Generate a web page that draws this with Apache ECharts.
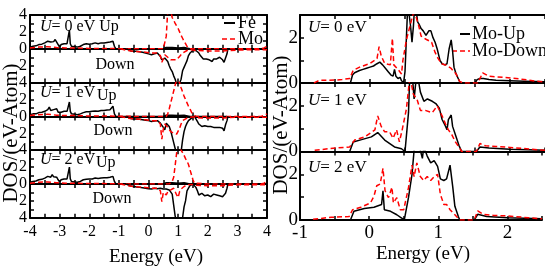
<!DOCTYPE html>
<html><head><meta charset="utf-8">
<script src="https://cdn.jsdelivr.net/npm/echarts@6/dist/echarts.min.js"></script>
<style>html,body{margin:0;padding:0;background:#fff}#c{width:545px;height:271px}</style>
</head><body><div id="c"></div>
<script>
// ---------- Left panel (Fe & Mo, Up / Down) ----------
const leftFeUpE = [-4,-3.9,-3.8,-3.7,-3.6,-3.5,-3.4,-3.35,-3.3,-3.25,-3.2,-3.15,-3.1,-3.05,-3.0,-2.95,-2.9,-2.85,-2.8,-2.75,-2.7,-2.67,-2.64,-2.6,-2.5,-2.4,-2.3,-2.2,-2.1,-2.0,-1.9,-1.8,-1.7,-1.6,-1.5,-1.4,-1.3,-1.25,-1.2,-1.15,-1.1,-0.5,0,0.5,0.6,0.8,1.0,1.2,1.4,1.6,2.0,2.4,2.65];
const feUpU0 = [0.2,0.3,0.35,0.5,0.55,0.7,0.9,1.1,0.8,1.0,0.85,1.1,0.9,0.5,0.2,0.5,0.4,0.6,0.5,0.6,0.7,2.2,0.6,0.3,0.25,0.2,0.3,0.5,0.6,0.55,0.6,0.7,0.6,0.7,0.7,0.75,0.8,0.7,0.9,0.3,0,0,0,0,0.15,0.15,0.1,0.15,0,0,0,0,0];
const feUpU1 = [0.2,0.3,0.3,0.45,0.5,0.6,0.8,1.1,0.7,0.9,0.8,1.0,0.9,0.5,0.3,0.5,0.5,0.6,0.55,0.6,0.7,1.7,0.6,0.3,0.25,0.2,0.3,0.45,0.55,0.55,0.6,0.65,0.6,0.7,0.7,0.75,0.8,0.7,1.2,0.3,0,0,0,0,0.15,0.15,0.1,0.15,0,0,0,0,0];
const feUpU2 = [0.2,0.3,0.35,0.5,0.55,0.7,0.9,1.0,0.8,1.1,0.85,1.0,0.8,0.5,0.25,0.5,0.45,0.6,0.5,0.6,0.7,2.0,0.6,0.3,0.25,0.2,0.3,0.5,0.55,0.6,0.6,0.7,0.65,0.7,0.75,0.75,0.8,0.75,0.9,0.3,0,0,0,0,0.15,0.15,0.1,0.15,0,0,0,0,0];

const leftMoUpE = [-4,-3.7,-3.4,-3.1,-2.8,-2.5,-2.0,-1.5,-1.0,-0.5,0,0.3,0.5,0.55,0.6,0.65,0.7,0.75,0.8,0.85,0.9,0.95,1.0,1.05,1.1,1.15,1.2,1.25,1.3,1.35,1.4,1.45,1.5,1.55,1.6,2.0,2.5,3.0,3.5,3.8,3.9,4.0];
const moUpU0 = [0.1,0.2,0.25,0.15,0.1,0.1,0.05,0.05,0.02,0,0,0,0,0.1,1.5,4.6,5.0,4.5,3.7,3.4,3.0,2.7,2.4,2.0,1.6,1.25,0.9,0.6,0.3,0.1,0,0,0,0,0,0,0,0,0,0,0.1,0.3];
const moUpU1 = [0.1,0.2,0.25,0.15,0.1,0.1,0.05,0.05,0.02,0,0,0,0,0,0,0.3,0.9,1.6,2.3,3.0,3.7,4.4,4.6,4.0,3.4,2.9,2.4,2.0,1.6,1.2,0.9,0.5,0.25,0.05,0,0,0,0,0,0,0.1,0.3];
const moUpU2 = [0.1,0.2,0.25,0.15,0.1,0.1,0.05,0.05,0.02,0,0,0,0,0,0,0,0,0.1,0.3,0.8,2.2,3.7,4.6,4.4,4.0,3.7,3.4,3.0,2.7,2.3,1.7,1.1,0.5,0.1,0,0,0,0,0,0,0.1,0.3];

const leftFeDnE = [-0.75,-0.7,-0.6,-0.5,-0.4,-0.3,-0.2,-0.1,0,0.1,0.2,0.3,0.35,0.4,0.45,0.5,0.55,0.6,0.65,0.7,0.75,0.8,0.85,0.9,0.95,1.0,1.05,1.1,1.15,1.2,1.25,1.3,1.35,1.4,1.45,1.5,1.55,1.6,1.65,1.7,1.75,1.8,1.85,1.9,1.95,2.0,2.05,2.1,2.15,2.2,2.25,2.3,2.35,2.4,2.45,2.5,2.55,2.6,2.65,2.68];
const feDnU0 = [0,0.2,0.25,0.3,0.3,0.35,0.4,0.5,0.6,0.7,0.6,0.5,0.6,0.9,1.3,1.5,1.1,1.2,1.5,2.0,2.4,2.7,3.2,3.6,4.2,4.5,4.3,3.6,2.6,2.2,1.8,1.4,0.8,0.5,0.4,0.2,0.05,0.2,0.3,0.5,0.8,1.0,1.2,1.1,1.2,1.1,1.3,1.4,1.5,1.2,1.3,1.2,1.3,1.0,1.2,1.3,1.6,1.1,0.6,0];
const feDnU1 = [0,0.2,0.25,0.3,0.3,0.35,0.4,0.45,0.5,0.6,0.55,0.5,0.6,0.8,1.0,1.3,1.6,0.8,0.6,1.2,1.7,2.4,3.1,3.8,4.5,4.6,4.5,4.2,2.8,1.8,1.2,0.8,0.5,0.3,0.2,0.05,0,0.3,0.6,0.9,1.1,1.2,1.0,1.1,1.3,1.2,1.3,1.2,1.4,1.3,1.2,1.3,1.4,1.3,1.2,1.4,1.7,1.0,0.5,0];
const feDnU2 = [0,0.2,0.25,0.3,0.35,0.4,0.45,0.5,0.55,0.6,0.5,0.55,0.5,0.5,0.6,0.6,0.5,0.6,0.5,0.7,0.8,1.2,2.5,3.8,4.5,4.6,4.5,4.5,4.0,2.7,2.0,0.8,0.5,0.2,0.05,0,0.1,0.4,0.8,1.3,1.2,1.1,1.3,1.4,1.2,1.3,1.2,1.5,1.3,1.2,1.4,1.3,1.2,1.4,1.3,1.5,1.7,1.1,0.5,0];

const leftMoDnE = [-0.95,-0.9,-0.7,-0.5,-0.3,-0.1,0.1,0.3,0.35,0.4,0.45,0.5,0.55,0.6,0.65,0.7,0.75,0.8,0.85,0.9,0.95,1.0,1.05,1.1,1.15,1.2,1.3,1.4,1.5,1.6,2.0,2.5,2.7,3.0,3.5,4.0];
const moDnU0 = [0,0.1,0.2,0.3,0.35,0.4,0.5,0.5,0.6,0.8,1.6,1.2,0.7,0.8,1.0,1.1,1.3,1.4,1.3,1.5,1.3,1.1,0.9,0.7,0.5,0.4,0.2,0.1,0.15,0.2,0.25,0.25,0.2,0.15,0.1,0.1];
const moDnU1 = [0,0.1,0.2,0.3,0.35,0.4,0.5,0.5,0.6,0.9,2.7,1.5,0.9,1.0,1.3,1.5,1.8,1.9,2.0,2.1,2.1,2.0,1.4,0.9,0.5,0.4,0.2,0.1,0.05,0.15,0.2,0.2,0.15,0.1,0.1,0.1];
const moDnU2 = [0,0.1,0.2,0.3,0.35,0.4,0.5,0.5,0.6,0.8,2.1,1.0,0.9,1.3,0.9,0.8,0.7,0.6,0.5,0.6,1.3,1.6,0.9,0.6,0.4,0.3,0.1,0.05,0.05,0.15,0.2,0.2,0.15,0.1,0.1,0.1];

// ---------- Right panel (Mo-Up / Mo-Down) ----------
const rU0UpE = [-0.28,-0.25,-0.22,-0.15,-0.1,-0.05,0,0.05,0.1,0.14,0.18,0.22,0.26,0.3,0.33,0.35,0.37,0.4,0.43,0.45,0.48,0.5,0.52,0.54,0.56,0.58,0.6,0.62,0.64,0.66,0.68,0.7,0.73,0.76,0.8,0.84,0.87,0.9,0.93,0.96,1.0,1.03,1.07,1.1,1.13,1.16,1.18,1.2,1.23,1.26,1.29,1.5,1.53,1.57,1.62,1.7,1.8,2.0,2.2,2.5];
const rU0UpV = [0,0.35,0.45,0.55,0.6,0.65,0.7,0.75,0.85,0.92,0.8,0.65,0.5,0.35,0.3,0.6,0.3,0.2,0.25,0.1,0.02,0.5,2.0,3.5,3.5,2.5,1.8,2.5,3.5,3.2,2.7,2.6,2.4,2.3,2.1,2.3,2.3,2.0,1.8,1.5,1.0,0.85,0.8,0.85,1.5,1.9,1.4,0.7,0.4,0.2,0,0,0.15,0.2,0.2,0.15,0.12,0.1,0.08,0.05];
const rU0DnE = [-0.8,-0.77,-0.72,-0.5,-0.4,-0.29,-0.24,-0.14,0,0.1,0.13,0.16,0.21,0.29,0.32,0.34,0.4,0.45,0.47,0.52,0.57,0.62,0.66,0.69,0.73,0.8,0.88,0.93,0.97,1.02,1.09,1.16,1.23,1.28,1.33,1.54,1.61,1.7,1.9,2.14,2.38,2.5];
const rU0DnV = [0,0.05,0.12,0.13,0.15,0.2,0.56,0.71,0.86,1.08,1.6,1.2,0.86,0.8,1.97,0.8,0.6,0.4,1.0,1.9,2.5,3.1,2.9,2.6,2.07,1.93,1.8,1.35,1.1,0.85,0.78,0.64,0.4,0.07,0,0,0.45,0.3,0.25,0.18,0.08,0.05];
const rU1UpE = [-0.29,-0.24,-0.12,0.02,0.11,0.21,0.35,0.45,0.5,0.55,0.57,0.6,0.63,0.67,0.72,0.77,0.82,0.89,0.94,0.99,1.03,1.08,1.1,1.12,1.16,1.18,1.22,1.27,1.31,1.52,1.57,1.7,2.0,2.5];
const rU1UpV = [0,0.42,0.52,0.64,0.83,0.5,0.2,0.12,0,1.7,3.5,3.5,2.3,3.5,2.6,2.2,2.3,2.2,2.1,1.9,1.4,1.1,0.95,1.4,1.6,1.1,0.73,0.27,0,0,0.2,0.15,0.1,0.05];
const rU1DnE = [-0.79,-0.6,-0.29,-0.22,-0.07,0.07,0.11,0.16,0.21,0.28,0.33,0.38,0.42,0.46,0.52,0.57,0.62,0.67,0.72,0.79,0.89,0.96,1.03,1.08,1.12,1.17,1.22,1.27,1.31,1.52,1.57,1.65,1.8,2.0,2.3,2.5];
const rU1DnV = [0.05,0.12,0.2,0.5,0.65,0.95,1.56,1.1,0.86,0.86,0.58,0.95,0.42,0.95,1.86,3.3,2.5,2.3,1.8,1.8,1.7,2.0,1.56,1.2,0.95,0.73,0.42,0.2,0,0,0.35,0.25,0.22,0.18,0.1,0.05];
const rU2UpE = [-0.27,-0.22,-0.07,0.07,0.18,0.2,0.22,0.31,0.4,0.47,0.51,0.57,0.62,0.66,0.72,0.77,0.79,0.84,0.89,0.94,0.99,1.03,1.08,1.12,1.17,1.21,1.24,1.29,1.31,1.52,1.57,1.7,2.0,2.5];
const rU2UpV = [0,0.38,0.5,0.56,0.68,1.28,0.45,0.38,0.23,0.08,0.03,1.0,2.0,3.4,3.3,2.7,3.2,2.8,2.5,2.6,2.35,1.8,1.73,1.8,2.4,1.43,0.6,0.15,0,0,0.25,0.15,0.1,0.05];
const rU2DnE = [-0.81,-0.55,-0.29,-0.24,-0.12,0.02,0.07,0.11,0.16,0.2,0.23,0.28,0.33,0.35,0.4,0.45,0.5,0.57,0.62,0.65,0.69,0.74,0.79,0.84,0.89,0.94,0.99,1.03,1.08,1.12,1.17,1.24,1.31,1.52,1.57,1.65,1.8,2.0,2.3,2.5];
const rU2DnV = [0.03,0.12,0.15,0.45,0.56,0.75,1.05,1.5,1.58,2.26,1.28,0.98,1.43,0.75,0.98,0.45,0.45,1.43,2.4,1.9,2.5,1.9,1.73,1.9,1.73,1.9,2.0,1.13,0.68,0.68,0.45,0.23,0,0,0.4,0.25,0.2,0.18,0.1,0.05];

const uLabels = ['0', '1', '2'];
const leftXTicks = [-4, 4, 0.5];
const rightXTicks = [-1, 2.5, 0.5];

// ---------- build ----------
const FONT = 'Liberation Serif';
const zip = (e, v) => e.map((x, i) => [x, v[i]]);
const feUp = [feUpU0, feUpU1, feUpU2], moUp = [moUpU0, moUpU1, moUpU2];
const feDn = [feDnU0, feDnU1, feDnU2], moDn = [moDnU0, moDnU1, moDnU2];
const rUp = [[rU0UpE, rU0UpV], [rU1UpE, rU1UpV], [rU2UpE, rU2UpV]];
const rDn = [[rU0DnE, rU0DnV], [rU1DnE, rU1DnV], [rU2DnE, rU2DnV]];

const grid = [], xAxis = [], yAxis = [], series = [];
const axLine = {show: true, onZero: false, lineStyle: {color: '#000', width: 2}};
const axTick = {show: true, inside: true, length: 4, lineStyle: {color: '#000', width: 1.5}};
const intFmt = v => (Math.abs(v - Math.round(v)) < 1e-6 ? String(Math.round(v)) : '');
const evenFmt = v => (Math.round(v) % 2 === 0 ? String(Math.round(v)) : '');

function addGrid(g, xr, yr, opts) {
  const gi = grid.length;
  grid.push(g);
  const xl = {type: 'value', gridIndex: gi, min: xr[0], max: xr[1], interval: xr[2],
    axisLine: axLine, axisTick: axTick, splitLine: {show: false}};
  xAxis.push(Object.assign({}, xl, {position: 'bottom',
    axisLabel: {show: opts.xLabels, formatter: intFmt, color: '#000', fontFamily: FONT, fontSize: opts.fs, margin: opts.xm}}));
  xAxis.push(Object.assign({}, xl, {position: 'top', axisLabel: {show: false}}));
  const yl = {type: 'value', gridIndex: gi, min: yr[0], max: yr[1], interval: 1, inverse: !!opts.inverse,
    axisLine: axLine, axisTick: axTick, splitLine: {show: false}};
  yAxis.push(Object.assign({}, yl, {position: 'left',
    axisLabel: {show: true, formatter: evenFmt, color: '#000', fontFamily: FONT, fontSize: opts.fs, margin: opts.ym,
      showMinLabel: opts.showMin !== false, showMaxLabel: opts.showMax !== false}}));
  yAxis.push(Object.assign({}, yl, {position: 'right', show: opts.rightAxis, axisLabel: {show: false}}));
  return {x: 2 * gi, y: 2 * gi};
}
function line(idx, data, red) {
  series.push({type: 'line', xAxisIndex: idx.x, yAxisIndex: idx.y, data: data, showSymbol: false,
    clip: true, silent: true,
    lineStyle: red ? {color: '#ff0000', width: 1.5, type: [5, 3]} : {color: '#000', width: 1.5},
    itemStyle: {color: red ? '#ff0000' : '#000'}});
}

const LH = 33.8;
for (let i = 0; i < 6; i++) {
  const u = Math.floor(i / 2), up = i % 2 === 0;
  const idx = addGrid({left: 30, top: 15 + i * LH, width: 237, height: LH}, leftXTicks, [0, 4],
    {xLabels: i === 5, fs: 16, xm: 6, ym: 3, inverse: !up, rightAxis: true,
     showMin: up ? true : false, showMax: up ? (i === 0) : true});
  if (up) { line(idx, zip(leftFeUpE, feUp[u]), false); line(idx, zip(leftMoUpE, moUp[u]), true); }
  else { line(idx, zip(leftFeDnE, feDn[u]), false); line(idx, zip(leftMoDnE, moDn[u]), true); }
}
const rTops = [15, 83, 151.5], rH = [68, 68.5, 68.5];
for (let j = 0; j < 3; j++) {
  const idx = addGrid({left: 300, top: rTops[j], width: 245, height: rH[j]}, rightXTicks, [0, 3],
    {xLabels: j === 2, fs: 19, xm: 4, ym: 2, rightAxis: false, showMax: false});
  line(idx, zip(rUp[j][0], rUp[j][1]), false);
  line(idx, zip(rDn[j][0], rDn[j][1]), true);
}

function txt(x, y, text, size, extra) {
  return Object.assign({type: 'text', x: x, y: y, silent: true,
    style: Object.assign({text: text, fill: '#000', fontFamily: FONT, fontSize: size, align: 'left', verticalAlign: 'middle',
      rich: {i: {fontStyle: 'italic', fontFamily: FONT, fontSize: size, fill: '#000'}}}, extra || {})});
}
const graphic = [
  txt(40, 27, '{i|U}= ' + uLabels[0] + ' eV Up', 16),
  txt(40, 93, '{i|U}= ' + uLabels[1] + ' eV', 16), txt(97, 96, 'Up', 16),
  txt(40, 160, '{i|U}= ' + uLabels[2] + ' eV', 16), txt(96, 163, 'Up', 16),
  txt(115, 65, 'Down', 16, {align: 'center'}),
  txt(113, 131, 'Down', 16, {align: 'center'}),
  txt(112, 199, 'Down', 16, {align: 'center'}),
  txt(308, 28, '{i|U}= ' + uLabels[0] + ' eV', 17),
  txt(308, 101, '{i|U}= ' + uLabels[1] + ' eV', 17),
  txt(308, 168, '{i|U}= ' + uLabels[2] + ' eV', 17),
  // legends
  {type: 'line', shape: {x1: 224, y1: 23, x2: 235, y2: 23}, style: {stroke: '#000', lineWidth: 2}},
  txt(238, 23, 'Fe', 18),
  {type: 'line', shape: {x1: 222, y1: 39, x2: 235, y2: 39}, style: {stroke: '#ff0000', lineWidth: 1.5, lineDash: [5, 3]}},
  txt(238, 39, 'Mo', 18),
  {type: 'line', shape: {x1: 460, y1: 34, x2: 470, y2: 34}, style: {stroke: '#000', lineWidth: 2}},
  txt(472, 34, 'Mo-Up', 18),
  {type: 'line', shape: {x1: 452, y1: 51, x2: 470, y2: 51}, style: {stroke: '#ff0000', lineWidth: 1.5, lineDash: [5, 3]}},
  txt(472, 51, 'Mo-Down', 18),
  // axis titles
  txt(156, 257, 'Energy (eV)', 19, {align: 'center'}),
  txt(423, 254, 'Energy (eV)', 19, {align: 'center'}),
  Object.assign(txt(0, 0, 'DOS/(eV-Atom)', 21, {align: 'center'}), {x: 11, y: 133, rotation: Math.PI / 2}),
  Object.assign(txt(0, 0, 'DOS/(eV-Atom)', 21, {align: 'center'}), {x: 281, y: 125, rotation: Math.PI / 2})
];

const chart = echarts.init(document.getElementById('c'), null, {renderer: 'canvas'});
chart.setOption({animation: false, backgroundColor: '#fff', grid, xAxis, yAxis, series, graphic});
</script></body></html>
